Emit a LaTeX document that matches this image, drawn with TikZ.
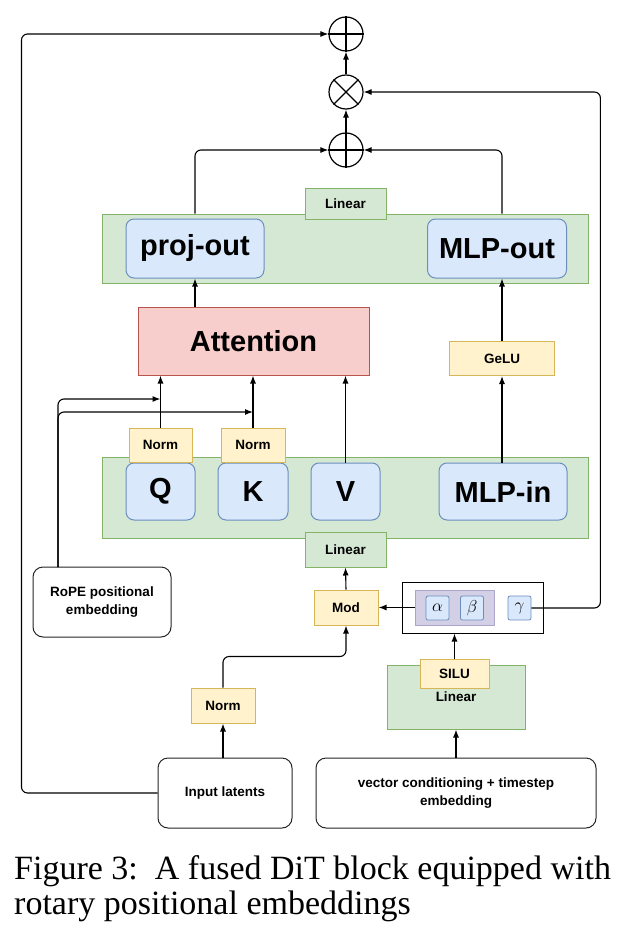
\documentclass[tikz,border=0pt]{standalone}
\usepackage{fontspec}
\setmainfont{Liberation Sans}
\newfontfamily\capfont{Liberation Serif}
\usepackage{tikz}
\usetikzlibrary{arrows.meta}
\usepackage{xcolor}

\definecolor{grnfill}{HTML}{D5E8D4}
\definecolor{grnline}{HTML}{82B366}
\definecolor{blufill}{HTML}{DAE8FC}
\definecolor{bluline}{HTML}{6C8EBF}
\definecolor{yelfill}{HTML}{FFF2CC}
\definecolor{yelline}{HTML}{D6B656}
\definecolor{redfill}{HTML}{F8CECC}
\definecolor{redline}{HTML}{B85450}
\definecolor{purfill}{HTML}{D3CFE4}
\definecolor{purline}{HTML}{ABA5C9}

\newcommand\bigtxt{\fontsize{29}{32}\selectfont\bfseries}
\newcommand\smalltxt{\fontsize{13.5}{18}\selectfont\bfseries}

\tikzset{
  sz/.style 2 args={minimum width=#1pt, minimum height=#2pt, inner sep=0pt},
  grnbox/.style={draw=grnline, fill=grnfill, line width=1pt, font=\smalltxt},
  blubox/.style={draw=bluline, fill=blufill, line width=1pt, rounded corners=8pt, font=\bigtxt},
  redbox/.style={draw=redline, fill=redfill, line width=1pt, font=\bigtxt},
  yelbox/.style={draw=yelline, fill=yelfill, line width=1pt, font=\smalltxt},
  purbox/.style={draw=purline, fill=purfill, line width=1pt},
  cbox/.style={draw=bluline, fill=blufill, line width=0.8pt, rounded corners=2pt, sz={23}{24}, font=\fontsize{16}{18}\selectfont},
  plainbox/.style={draw=black!85, fill=white, line width=1pt, rounded corners=10pt, align=center, font=\smalltxt},
  opnode/.style={circle, draw, minimum size=34pt, inner sep=0pt, line width=1.2pt},
  flow/.style={-{Latex[length=8pt,width=6pt]}, line width=1.1pt, rounded corners=6pt}
}

\begin{document}
\begin{tikzpicture}[x=1pt,y=-1pt]
	\useasboundingbox (0,0) rectangle (640,928);
	
	\node[opnode] (plusa) at (346,34) {};
	\node[opnode] (mul) at (346,92) {};
	\node[opnode] (plusb) at (346,150) {};
	\draw[line width=1.2pt] (plusa.north) -- (plusa.south) (plusa.west) -- (plusa.east);
	\draw[line width=1.2pt] (mul.north west) -- (mul.south east) (mul.north east) -- (mul.south west);
	\draw[line width=1.2pt] (plusb.north) -- (plusb.south) (plusb.west) -- (plusb.east);
	
	\node[grnbox, sz={486}{69}] (outblk) at (345,248.5) {};
	\node[grnbox, sz={81}{31}] (linout) at (345.5,203.5) {Linear};
	\node[blubox, sz={138}{59}] (projout) at (195,248.5) {proj-out};
	\node[blubox, sz={139}{59}] (mlpout) at (497,248.5) {MLP-out};
	
	\node[redbox, sz={231}{68}] (attn) at (253.5,341) {Attention};
	\node[yelbox, sz={105}{34}] (gelu) at (502,358.5) {GeLU};
	
	\node[grnbox, sz={486}{81}] (inblk) at (345,497.5) {};
	\node[blubox, sz={69}{57}] (q) at (160.5,491.5) {Q};
	\node[blubox, sz={70}{57}] (k) at (253,491.5) {K};
	\node[blubox, sz={69}{57}] (v) at (345.5,491.5) {V};
	\node[blubox, sz={128}{57}] (mlpin) at (503,491.5) {MLP-in};
	\node[yelbox, sz={63}{34}] (normq) at (160.5,445) {Norm};
	\node[yelbox, sz={64}{34}] (normk) at (253,445) {Norm};
	\node[grnbox, sz={81}{35}] (linin) at (345.5,549.5) {Linear};
	
	\node[yelbox, sz={64}{35}] (mod) at (346,607.5) {Mod};
	\node[draw, line width=1pt, sz={141}{51}] (coef) at (472.5,607.5) {};
	\node[purbox, sz={79}{35}] (ab) at (454.5,607.5) {};
	\node[cbox] (alpha) at (437.5,608) {$\alpha$};
	\node[cbox] (beta) at (472,608) {$\beta$};
	\node[cbox] (gamma) at (519.5,608) {$\gamma$};
	
	\node[plainbox, sz={138}{70}] (rope) at (102,602) {RoPE positional\\embedding};
	\node[grnbox, sz={138}{64}] (linc) at (456,697) {Linear};
	\node[yelbox, sz={69}{29}] (silu) at (454.5,673.5) {SILU};
	\node[yelbox, sz={64}{35}] (normin) at (223,705.5) {Norm};
	\node[plainbox, sz={134}{70}] (inp) at (225,793) {Input latents};
	\node[plainbox, sz={280}{70}] (vec) at (456,793) {vector conditioning + timestep\\embedding};
	
	\draw[flow] (inp.west) -- ++(-136,0) |- (plusa.west);
	\draw[flow] (gamma.east) -- ++(69,0) |- (mul.east);
	\draw[flow] (plusb.north) -- (mul.south);
	\draw[flow] (mul.north) -- (plusa.south);
	\draw[flow] (projout.north |- outblk.north) |- (plusb.west);
	\draw[flow] (gelu.north |- outblk.north) |- (plusb.east);
	
	\draw[flow] (attn.north -| projout) -- (projout.south);
	\draw[flow] (gelu.north) -- (gelu.north |- mlpout.south);
	\draw[flow] (mlpin.north -| gelu) -- (gelu.south);
	\draw[flow] (normq.north) -- (normq.north |- attn.south);
	\draw[flow] (normk.north) -- (normk.north |- attn.south);
	\draw[flow] (v.north) -- (v.north |- attn.south);
	
	\coordinate (ropetop) at (58,567);
	\coordinate (rq) at (160.5,399);
	\coordinate (rk) at (253,412);
	\draw[flow] (ropetop) |- (rq);
	\draw[flow] (ropetop) |- (rk);
	
	\draw[flow] (mod.north) -- (linin.south);
	\draw[flow] (ab.west) -- (mod.east);
	\draw[flow] (silu.north) -- (silu.north |- coef.south);
	\draw[flow] (normin.north) -- ++(0,-31) -| (mod.south);
	\draw[flow] (inp.north -| normin) -- (normin.south);
	\draw[flow] (vec.north -| linc) -- (linc.south);
	
	\node[anchor=north west, inner sep=0pt, align=left, font=\capfont\fontsize{34}{35}\selectfont] (cap) at (14,855) {Figure 3:\ \ A fused DiT block equipped with\\rotary positional embeddings};
\end{tikzpicture}
\end{document}
